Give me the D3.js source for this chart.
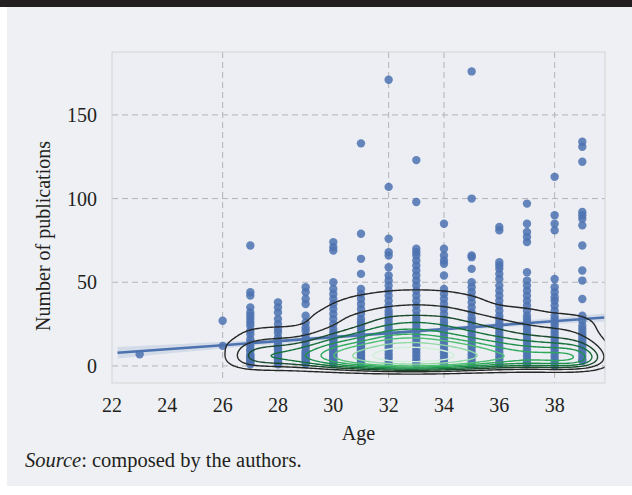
<!DOCTYPE html>
<html>
<head>
<meta charset="utf-8">
<script src="https://cdn.jsdelivr.net/npm/d3@7"></script>
<style>
  body { margin: 0; background: #fff; }
  text { font-family: "Liberation Serif", "Times New Roman", serif; fill: #231f20; }
</style>
</head>
<body>
<div id="chart"></div>
<script>

// researchers grouped by age, publications of the visible points
var ages = [23, 26, 27, 28, 29, 30, 31, 32, 33, 34, 35, 36, 37, 38, 39];
var publications = [
  [7],
  [27, 12],
  [72, 44, 42, 35, 32, 30, 28, 26, 24, 21, 19, 16, 14, 12, 10, 9, 7, 6, 5, 4, 3, 2, 1],
  [38, 35, 32, 28, 25, 22, 20, 17, 15, 13, 11, 10, 8, 7, 6, 5, 4, 3, 2, 1],
  [47, 44, 40, 37, 30, 26, 23, 21, 18, 16, 14, 12, 11, 9, 8, 7, 6, 5, 4, 3, 2, 1],
  [74, 71, 69, 50, 46, 43, 40, 37, 34, 31, 28, 25, 22, 20, 18, 16, 15, 13, 12, 11, 10, 9, 8, 7, 6, 5, 4, 3, 2, 1],
  [133, 79, 64, 55, 46, 43, 40, 37, 34, 31, 28, 26, 24, 22, 20, 18, 17, 15, 14, 13, 12, 11, 10, 9, 8, 7, 6, 5, 4, 3, 2, 1],
  [171, 107, 76, 68, 66, 59, 54, 51, 48, 45, 42, 39, 36, 33, 31, 29, 27, 25, 23, 21, 19, 17, 15, 13, 11, 9, 7, 5, 3, 1],
  [123, 98, 70, 68, 66, 63, 60, 57, 54, 51, 48, 45, 42, 39, 36, 33, 30, 28, 26, 24, 22, 20, 18, 16, 14, 12, 10, 8, 6, 4, 2, 1],
  [85, 70, 66, 63, 61, 54, 46, 43, 40, 37, 34, 31, 28, 26, 24, 22, 20, 18, 16, 14, 12, 10, 8, 6, 4, 2, 1],
  [176, 100, 66, 65, 58, 50, 47, 44, 41, 38, 35, 32, 29, 27, 25, 23, 21, 19, 17, 15, 13, 11, 9, 7, 5, 3, 1],
  [83, 81, 62, 60, 58, 55, 52, 48, 45, 42, 39, 36, 33, 30, 28, 26, 24, 22, 20, 18, 16, 14, 12, 10, 8, 6, 4, 2, 1],
  [97, 85, 80, 77, 74, 56, 51, 48, 45, 42, 39, 36, 33, 30, 28, 26, 24, 22, 20, 18, 16, 14, 12, 10, 8, 6, 4, 2, 1],
  [113, 90, 85, 81, 52, 47, 44, 41, 39, 36, 33, 30, 28, 26, 24, 22, 20, 18, 16, 14, 12, 10, 8, 6, 4, 2, 0],
  [134, 131, 122, 92, 90, 88, 84, 72, 57, 51, 40, 30, 27, 24, 22, 20, 18, 16, 14, 12, 10, 8, 6, 4, 3]
];

// estimated number of researchers per age and publication range (hidden under the dense columns)
var kdeAges = [26, 27, 28, 29, 30, 31, 32, 33, 34, 35, 36, 37, 38, 39];
var pubBins = [1, 5, 9, 13, 17, 21, 25, 29, 33, 37, 41, 45];
var binCounts = [
  [0, 0, 0, 1, 0, 0, 0, 0, 0, 0, 0, 0],
  [5, 7, 6, 4, 3, 2, 1, 0, 0, 0, 0, 0],
  [5, 7, 6, 4, 3, 2, 1, 1, 0, 0, 0, 0],
  [6, 8, 7, 5, 3, 2, 1, 1, 1, 0, 0, 0],
  [9, 12, 11, 8, 6, 4, 3, 3, 2, 2, 1, 1],
  [12, 17, 14, 10, 7, 6, 4, 4, 3, 2, 2, 1],
  [15, 23, 20, 14, 10, 8, 6, 5, 4, 3, 2, 2],
  [16, 25, 21, 15, 11, 8, 7, 5, 4, 3, 3, 2],
  [14, 22, 18, 13, 9, 7, 6, 5, 4, 3, 2, 2],
  [11, 16, 14, 10, 7, 6, 5, 4, 3, 2, 2, 1],
  [9, 13, 10, 8, 6, 5, 4, 3, 2, 1, 1, 0],
  [8, 11, 9, 7, 5, 4, 3, 2, 2, 1, 1, 0],
  [9, 12, 9, 6, 5, 3, 3, 2, 1, 1, 0, 0],
  [9, 12, 9, 6, 4, 3, 3, 2, 1, 0, 0, 0]
];

// fitted regression line and its confidence band
var fitAges = [22.2, 26, 30, 33, 36, 39.8];
var fitValues = [7.9, 12.4, 17.2, 20.8, 24.4, 28.9];
var fitHalfWidth = [3.4, 2.0, 1.2, 1.0, 1.4, 2.4];

var xTicks = [22, 24, 26, 28, 30, 32, 34, 36, 38];
var yTicks = [0, 50, 100, 150];
var xGrid = [26, 32, 34, 38];

// kde settings (seaborn style: 10 iso-proportion levels from 5%)
var levelCount = 10;
var thresh = 0.05;
var bwAge = 0.66;
var bwPubs = 3.2;
var contourColors = ["#262626", "#252a26", "#1b4a2d", "#15703a", "#1f9049", "#2ea85a", "#4fbf73", "#8fd9a3", "#d0f0d8"];

(function(){

  var width = 632;
  var height = 495;
  var plot = {left: 112, right: 605, top: 52, bottom: 383};

  var svg = d3.select("#chart")
    .append("svg")
    .attr("width", width)
    .attr("height", height);

  //page frame: dark strip on top, light panel
  svg.append("rect").attr("x", 0).attr("y", 0).attr("width", width).attr("height", 7).attr("fill", "#231f20");
  svg.append("rect").attr("x", 7).attr("y", 7).attr("width", width - 7).attr("height", 479).attr("fill", "#eef0f4");

  var x = d3.scaleLinear().domain([22, 39.82]).range([plot.left, plot.right]);
  var y = d3.scaleLinear().domain([-10.2, 187.6]).range([plot.bottom, plot.top]);

  svg.append("rect")
    .attr("x", plot.left).attr("y", plot.top)
    .attr("width", plot.right - plot.left).attr("height", plot.bottom - plot.top)
    .attr("fill", "#eceef3");

  svg.append("clipPath").attr("id", "plotclip")
    .append("rect")
    .attr("x", plot.left).attr("y", plot.top)
    .attr("width", plot.right - plot.left).attr("height", plot.bottom - plot.top);

  //dashed grid
  var grid = svg.append("g").attr("stroke", "#b4b4b4").attr("stroke-width", 1).attr("stroke-dasharray", "6,4");
  grid.selectAll(".hgrid").data(yTicks).enter().append("line")
    .attr("x1", plot.left).attr("x2", plot.right)
    .attr("y1", function(d){ return y(d) }).attr("y2", function(d){ return y(d) });
  grid.selectAll(".vgrid").data(xGrid).enter().append("line")
    .attr("y1", plot.top).attr("y2", plot.bottom)
    .attr("x1", function(d){ return x(d) }).attr("x2", function(d){ return x(d) });

  var inner = svg.append("g").attr("clip-path", "url(#plotclip)");

  //flatten into points
  var points = [];
  ages.forEach(function(a, i){
    publications[i].forEach(function(v){ points.push({age: a, pubs: v}) });
  });

  //scatter
  inner.selectAll(".dot")
    .data(points)
    .enter().append("circle")
    .attr("class", "dot")
    .attr("cx", function(d){ return x(d.age) })
    .attr("cy", function(d){ return y(d.pubs) })
    .attr("r", 4.2)
    .attr("fill", "#4c72b0")
    .attr("fill-opacity", 0.85);

  //regression band + line
  var fit = fitAges.map(function(a, i){ return {age: a, v: fitValues[i], hw: fitHalfWidth[i]} });
  inner.append("path")
    .datum(fit)
    .attr("fill", "#4c72b0")
    .attr("fill-opacity", 0.15)
    .attr("d", d3.area()
      .curve(d3.curveMonotoneX)
      .x(function(d){ return x(d.age) })
      .y0(function(d){ return y(d.v - d.hw) })
      .y1(function(d){ return y(d.v + d.hw) }));
  inner.append("path")
    .datum(fit)
    .attr("fill", "none")
    .attr("stroke", "#4c72b0")
    .attr("stroke-width", 2.6)
    .attr("d", d3.line()
      .x(function(d){ return x(d.age) })
      .y(function(d){ return y(d.v) }));

  //weighted gaussian kde on a grid
  var cells = [];
  kdeAges.forEach(function(a, i){
    pubBins.forEach(function(v, j){
      if (binCounts[i][j] > 0) cells.push({age: a, pubs: v, w: binCounts[i][j]});
    });
  });

  var a0 = 20, da = 0.08, nx = 301;
  var v0 = -30, dv = 0.4, ny = 251;
  var dens = new Float64Array(nx * ny);
  cells.forEach(function(p){
    var i0 = Math.max(0, Math.floor((p.age - 4 * bwAge - a0) / da));
    var i1 = Math.min(nx - 1, Math.ceil((p.age + 4 * bwAge - a0) / da));
    var j0 = Math.max(0, Math.floor((p.pubs - 4 * bwPubs - v0) / dv));
    var j1 = Math.min(ny - 1, Math.ceil((p.pubs + 4 * bwPubs - v0) / dv));
    for (var j = j0; j <= j1; j++) {
      var ty = (v0 + j * dv - p.pubs) / bwPubs;
      for (var i = i0; i <= i1; i++) {
        var tx = (a0 + i * da - p.age) / bwAge;
        dens[j * nx + i] += p.w * Math.exp(-0.5 * (tx * tx + ty * ty));
      }
    }
  });

  //iso proportion levels
  var sorted = Array.from(dens).sort(function(a, b){ return b - a });
  var total = d3.sum(sorted);
  var run = 0;
  var cum = sorted.map(function(v){ run += v; return run / total });
  var thresholds = d3.range(levelCount - 1).map(function(k){
    var p = thresh + k * (1 - thresh) / (levelCount - 1);
    return sorted[d3.bisectLeft(cum, 1 - p)];
  });

  var contours = d3.contours().size([nx, ny]).thresholds(thresholds)(Array.from(dens));

  var toPlot = d3.geoTransform({
    point: function(gx, gy){
      this.stream.point(x(a0 + (gx - 0.5) * da), y(v0 + (gy - 0.5) * dv));
    }
  });
  var path = d3.geoPath(toPlot);

  inner.selectAll(".kde")
    .data(contours)
    .enter().append("path")
    .attr("class", "kde")
    .attr("fill", "none")
    .attr("stroke", function(d, i){ return contourColors[i] })
    .attr("stroke-width", 1.4)
    .attr("d", path);

  //plot border
  svg.append("rect")
    .attr("x", plot.left).attr("y", plot.top)
    .attr("width", plot.right - plot.left).attr("height", plot.bottom - plot.top)
    .attr("fill", "none").attr("stroke", "#d4d4d4");

  //tick labels
  svg.selectAll(".xtick").data(xTicks).enter().append("text")
    .attr("x", function(d){ return x(d) })
    .attr("y", 412)
    .attr("text-anchor", "middle")
    .attr("font-size", 20)
    .text(function(d){ return d });

  svg.selectAll(".ytick").data(yTicks).enter().append("text")
    .attr("x", 97)
    .attr("y", function(d){ return y(d) + 7 })
    .attr("text-anchor", "end")
    .attr("font-size", 20)
    .text(function(d){ return d });

  //axis titles
  svg.append("text")
    .attr("x", (plot.left + plot.right) / 2)
    .attr("y", 440)
    .attr("text-anchor", "middle")
    .attr("font-size", 20)
    .text("Age");

  svg.append("text")
    .attr("transform", "translate(50,236) rotate(-90)")
    .attr("text-anchor", "middle")
    .attr("font-size", 20)
    .text("Number of publications");

  var src = svg.append("text")
    .attr("x", 25)
    .attr("y", 467)
    .attr("font-size", 20.5);
  src.append("tspan").attr("font-style", "italic").text("Source");
  src.append("tspan").text(": composed by the authors.");

})();
</script>
</body>
</html>
